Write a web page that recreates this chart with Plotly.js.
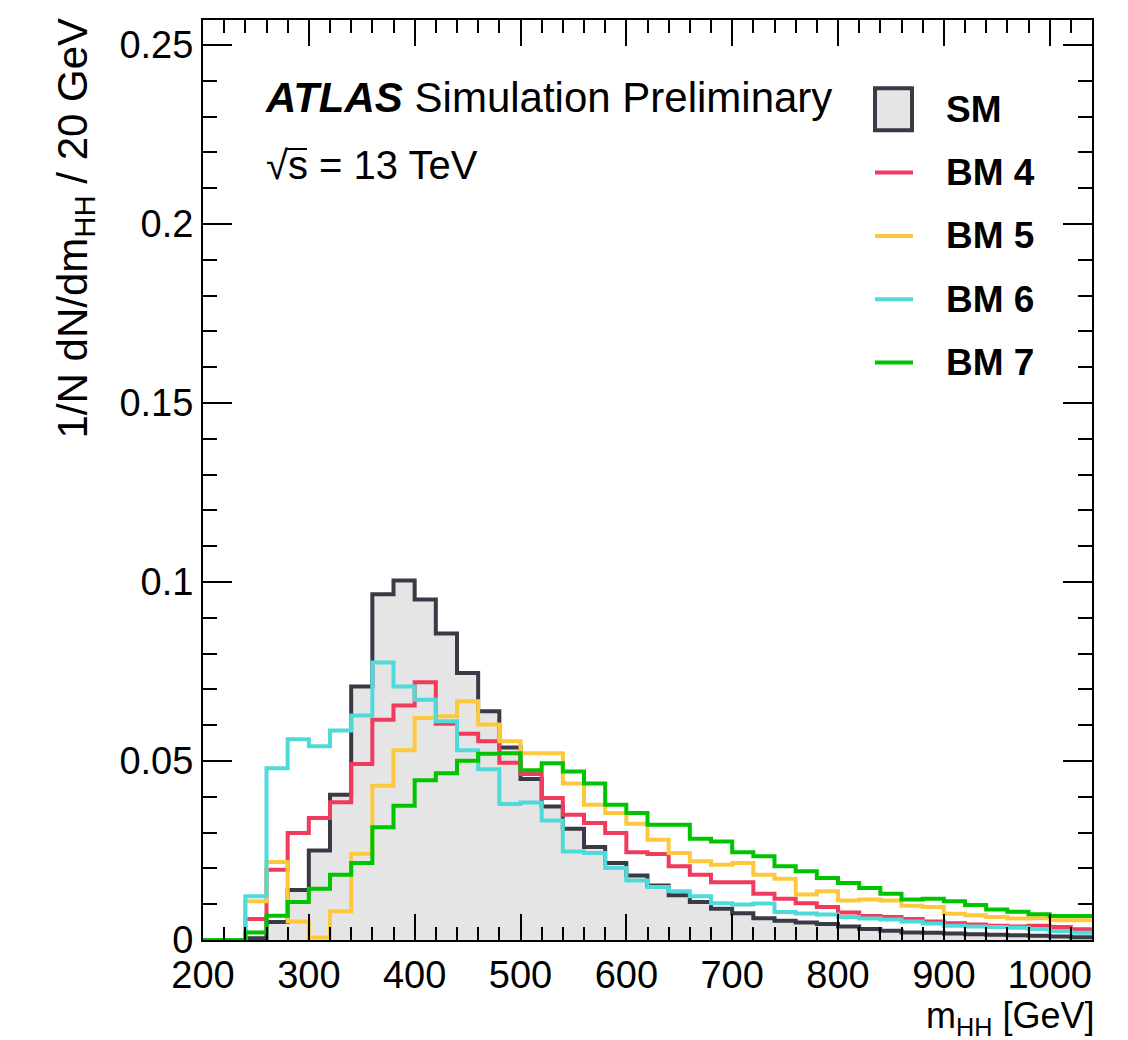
<!DOCTYPE html>
<html>
<head>
<meta charset="utf-8">
<script src="https://cdn.plot.ly/plotly-3.0.1.min.js"></script>
<style>
  html, body { margin: 0; padding: 0; background: #ffffff; }
  #chart { width: 1128px; height: 1040px; }
</style>
</head>
<body>
<div id="chart"></div>
<script>
// ---------------- data ----------------
const binEdges = [200,220,240,260,280,300,320,340,360,380,400,420,440,460,480,500,520,540,560,580,600,
                  620,640,660,680,700,720,740,760,780,800,820,840,860,880,900,920,940,960,980,1000,1020,1040];

const smValues = [0,0,0.0005,0.005,0.014,0.025,0.0406,0.0708,0.0966,0.1004,0.0951,0.0856,0.0746,0.0639,0.0538,
                  0.045,0.0373,0.0311,0.026,0.0215,0.018,0.0152,0.0125,0.0106,0.0087,0.0075,0.0061,0.0054,
                  0.0049,0.0045,0.0038,0.0031,0.0026,0.0021,0.002,0.0018,0.0016,0.0015,0.0013,0.0012,0.001,0.0008];

const bm4Values = [0,0,0.0059,0.0196,0.0299,0.0341,0.0385,0.0492,0.0615,0.0655,0.072,0.0604,0.0576,0.0555,0.0495,
                   0.0464,0.0397,0.035,0.0327,0.0299,0.0245,0.024,0.0206,0.0182,0.0161,0.0161,0.0129,0.0115,
                   0.0103,0.0092,0.0077,0.0067,0.0064,0.0059,0.0052,0.0047,0.0043,0.004,0.0038,0.004,0.0036,0.003];

const bm5Values = [0,0,0.0108,0.0218,0.0052,0.0007,0.008,0.0241,0.0431,0.053,0.062,0.0625,0.0667,0.0602,0.0555,
                   0.0522,0.0522,0.0437,0.0378,0.0355,0.0325,0.028,0.0243,0.022,0.021,0.0215,0.0182,0.0171,
                   0.0127,0.0136,0.011,0.0113,0.011,0.0096,0.0092,0.0073,0.0069,0.0064,0.006,0.0061,0.0055,0.0055];

const bm6Values = [0,0,0.0122,0.048,0.0561,0.0541,0.0585,0.0627,0.0775,0.0708,0.0671,0.0611,0.053,0.0477,0.038,
                   0.0384,0.0334,0.0247,0.0243,0.0201,0.0166,0.0148,0.0136,0.0122,0.0103,0.0099,0.0102,0.0078,
                   0.0074,0.0071,0.0064,0.006,0.0057,0.0052,0.0046,0.004,0.0038,0.0036,0.0034,0.0031,0.0025,0.002];

const bm7Values = [0,0,0.0021,0.0068,0.0106,0.0143,0.0182,0.0215,0.0315,0.0375,0.0446,0.0466,0.0501,0.052,0.0522,
                   0.0474,0.0494,0.0471,0.0437,0.0378,0.0355,0.0322,0.0322,0.0283,0.0275,0.0245,0.0234,0.0206,
                   0.0192,0.0173,0.0159,0.0145,0.0129,0.0113,0.0115,0.0108,0.0098,0.0085,0.0079,0.0072,0.0067,0.0067];

const seriesNames  = ["SM", "BM 4", "BM 5", "BM 6", "BM 7"];
const seriesValues = [smValues, bm4Values, bm5Values, bm6Values, bm7Values];
const seriesColors = ["#3a3a46", "#f03a5e", "#fdc93c", "#4fdada", "#00c400"];
const smFill = "#e5e5e5";

const xTitle = "m<sub>HH</sub> [GeV]";
const yTitle = "1/N dN/dm<sub>HH</sub> / 20 GeV";
const atlasLabel = "<b><i>ATLAS</i></b> Simulation Preliminary";
const energyLabel = "\u221As = 13 TeV";

// ---------------- layout helpers ----------------
const W = 1128, H = 1040;
const M = {l: 203, r: 36, t: 20, b: 100};
const PW = W - M.l - M.r, PH = H - M.t - M.b;
const px2x = p => (p - M.l) / PW;   // pixel -> paper x
const px2y = p => (H - M.b - p) / PH; // pixel -> paper y

const FONT = "'Liberation Sans', Arial, Helvetica, sans-serif";

// ---------------- traces ----------------
const traces = seriesValues.map((vals, i) => ({
  type: "scatter",
  mode: "lines",
  x: binEdges,
  y: vals.concat([vals[vals.length - 1]]),
  line: {shape: "hv", color: seriesColors[i], width: 4},
  fill: i === 0 ? "tozeroy" : "none",
  fillcolor: smFill,
  name: seriesNames[i],
  showlegend: false,
  hoverinfo: "skip"
}));

// ---------------- manual legend ----------------
const shapes = [];
const annotations = [];
const legTop = 109.3, legStep = 63.3;
seriesNames.forEach((nm, i) => {
  const cy = legTop + i * legStep;
  if (i === 0) {
    shapes.push({type: "rect", xref: "paper", yref: "paper",
      x0: px2x(875), x1: px2x(912), y0: px2y(cy - 21), y1: px2y(cy + 21),
      fillcolor: smFill, line: {color: seriesColors[0], width: 4}});
  } else {
    shapes.push({type: "line", xref: "paper", yref: "paper",
      x0: px2x(875), x1: px2x(913), y0: px2y(cy), y1: px2y(cy),
      line: {color: seriesColors[i], width: 4}});
  }
  annotations.push({xref: "paper", yref: "paper", x: px2x(944), y: px2y(cy),
    xanchor: "left", yanchor: "middle", showarrow: false,
    text: "<b>" + nm + "</b>", font: {family: FONT, size: 37, color: "#000"}});
});

// overline of the square root over "s"
shapes.push({type: "line", xref: "paper", yref: "paper",
  x0: px2x(287), x1: px2x(307), y0: px2y(149), y1: px2y(149),
  line: {color: "#000", width: 2}});

annotations.push({xref: "paper", yref: "paper", x: px2x(263), y: px2y(98),
  xanchor: "left", yanchor: "middle", showarrow: false,
  text: atlasLabel, font: {family: FONT, size: 42, color: "#000"}});
annotations.push({xref: "paper", yref: "paper", x: px2x(264), y: px2y(165),
  xanchor: "left", yanchor: "middle", showarrow: false,
  text: energyLabel, font: {family: FONT, size: 40, color: "#000"}});
annotations.push({xref: "paper", yref: "paper", x: px2x(75), y: px2y(16),
  xanchor: "center", yanchor: "top", textangle: -90, showarrow: false,
  text: yTitle, font: {family: FONT, size: 42, color: "#000"}});
annotations.push({xref: "paper", yref: "paper", x: px2x(1095), y: px2y(1018),
  xanchor: "right", yanchor: "middle", showarrow: false, borderpad: 0,
  text: xTitle, font: {family: FONT, size: 36, color: "#000"}});

const axisCommon = {
  showline: true, linecolor: "#000", linewidth: 2, mirror: "ticks",
  ticks: "inside", tickcolor: "#000", tickwidth: 2,
  showgrid: false, zeroline: false,
  tickfont: {family: FONT, size: 38, color: "#000"},
  fixedrange: true
};

const layout = {
  width: W, height: H,
  margin: M,
  paper_bgcolor: "#fff", plot_bgcolor: "#fff",
  showlegend: false,
  xaxis: Object.assign({}, axisCommon, {
    range: [200, 1040], tickmode: "linear", tick0: 200, dtick: 100, ticklen: 26,
    minor: {dtick: 20, tick0: 200, ticklen: 13, ticks: "inside", tickcolor: "#000", tickwidth: 2}
  }),
  yaxis: Object.assign({}, axisCommon, {
    range: [0, 0.257], tickmode: "linear", tick0: 0, dtick: 0.05, ticklen: 29,
    minor: {dtick: 0.01, tick0: 0, ticklen: 14, ticks: "inside", tickcolor: "#000", tickwidth: 2}
  }),
  shapes: shapes,
  annotations: annotations
};

Plotly.newPlot("chart", traces, layout, {displayModeBar: false, staticPlot: true});
</script>
</body>
</html>
